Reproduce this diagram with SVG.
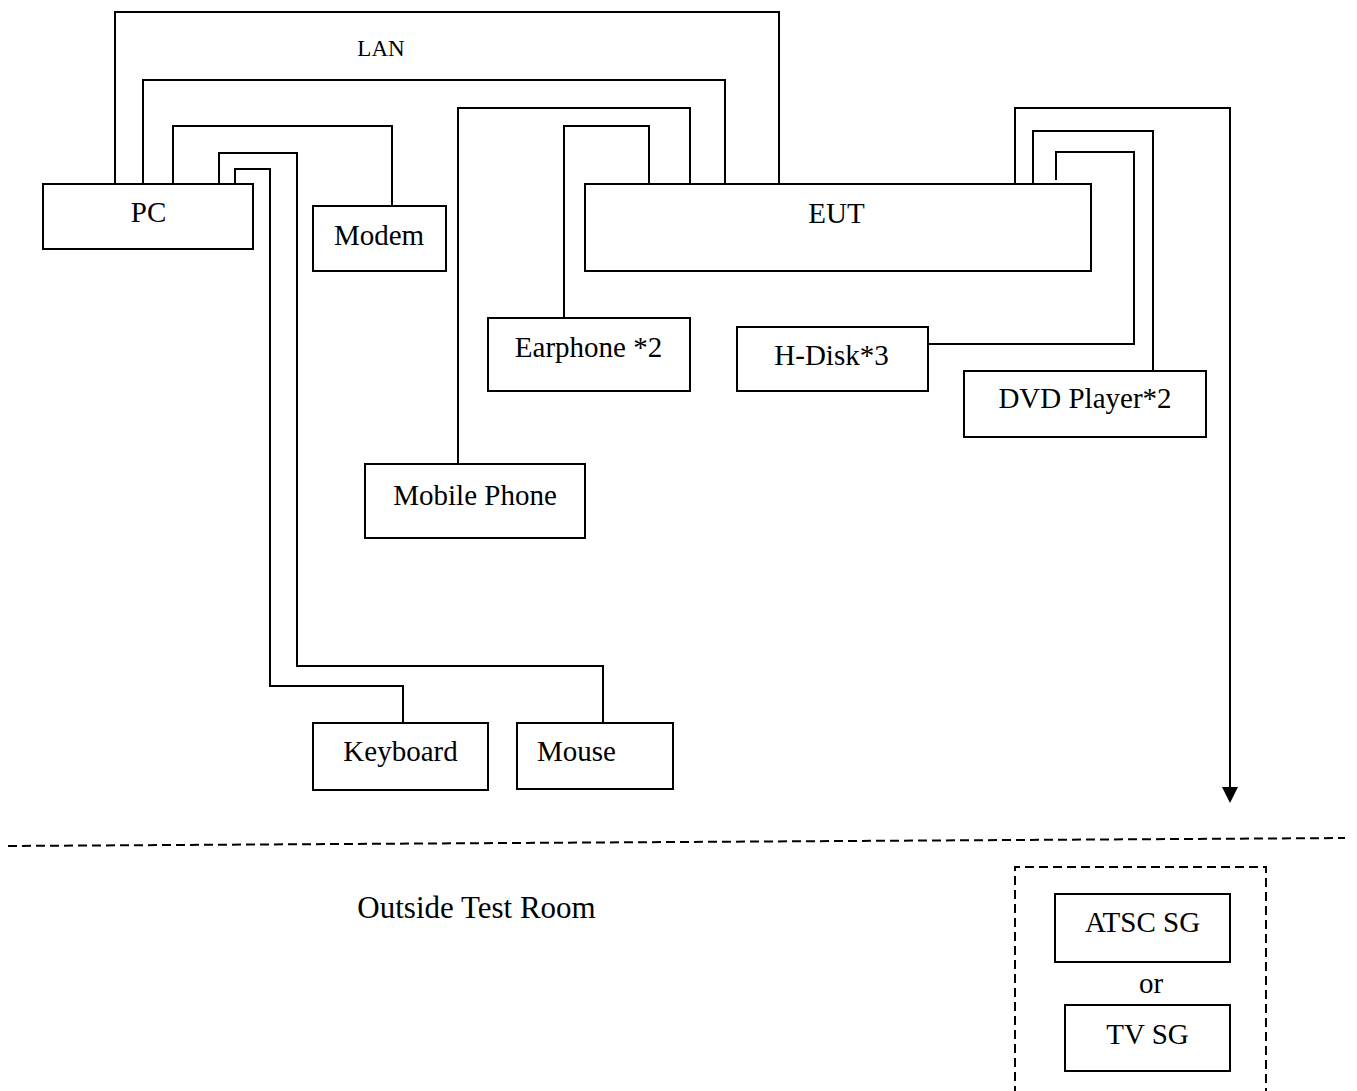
<svg xmlns="http://www.w3.org/2000/svg" width="1357" height="1091" viewBox="0 0 1357 1091">
<style>
.box{fill:#fff;stroke:#000;stroke-width:2}
.ln{fill:none;stroke:#000;stroke-width:2}
.dash{fill:none;stroke:#000;stroke-width:2;stroke-dasharray:9 5}
text{font-family:"Liberation Serif","Times New Roman",serif;font-size:29px;fill:#000;text-anchor:middle}
</style>
<rect width="1357" height="1091" fill="#fff"/>
<g id="connectors">
<path class="ln" d="M115,184 V12 H779 V184"/>
<path class="ln" d="M143,184 V80 H725 V184"/>
<path class="ln" d="M173,184 V126 H392 V206"/>
<path class="ln" d="M219,184 V153 H297 V666 H603 V723"/>
<path class="ln" d="M235,184 V169 H270 V686 H403 V723"/>
<path class="ln" d="M458,464 V108 H690 V184"/>
<path class="ln" d="M564,318 V126 H649 V184"/>
<path class="ln" d="M1015,184 V108 H1230 V789"/>
<polygon points="1222,787 1238,787 1230,803" fill="#000"/>
<path class="ln" d="M1033,184 V131 H1153 V371"/>
<path class="ln" d="M1056,180 V152 H1134 V344 H928"/>
</g>
<text x="381" y="56" style="font-size:23px">LAN</text>
<g id="pc"><rect class="box" x="43" y="184" width="210" height="65"/><text x="148.5" y="222">PC</text></g>
<g id="modem"><rect class="box" x="313" y="206" width="133" height="65"/><text x="379" y="245">Modem</text></g>
<g id="eut"><rect class="box" x="585" y="184" width="506" height="87"/><text x="836.5" y="223">EUT</text></g>
<g id="earphone"><rect class="box" x="488" y="318" width="202" height="73"/><text x="588.5" y="357">Earphone *2</text></g>
<g id="hdisk"><rect class="box" x="737" y="327" width="191" height="64"/><text x="831.5" y="365">H-Disk*3</text></g>
<g id="dvd"><rect class="box" x="964" y="371" width="242" height="66"/><text x="1085" y="408">DVD Player*2</text></g>
<g id="mobile"><rect class="box" x="365" y="464" width="220" height="74"/><text x="475" y="505">Mobile Phone</text></g>
<g id="keyboard"><rect class="box" x="313" y="723" width="175" height="67"/><text x="400.5" y="761">Keyboard</text></g>
<g id="mouse"><rect class="box" x="517" y="723" width="156" height="66"/><text x="576.5" y="761">Mouse</text></g>
<path class="dash" d="M8,846 L1345,838"/>
<text x="476.5" y="918" style="font-size:31px">Outside Test Room</text>
<g id="outside-box"><path class="dash" d="M1015,1095 V867 H1266 V1095"/></g>
<g id="atsc"><rect class="box" x="1055" y="894" width="175" height="68"/><text x="1142.5" y="932">ATSC SG</text></g>
<text x="1151" y="993">or</text>
<g id="tvsg"><rect class="box" x="1065" y="1005" width="165" height="66"/><text x="1147.5" y="1044">TV SG</text></g>
</svg>
